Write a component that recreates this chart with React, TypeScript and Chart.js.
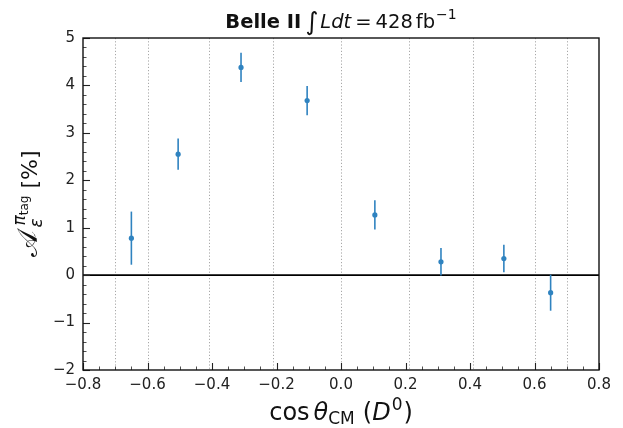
import React, { useEffect, useRef } from "react";
import { Chart, registerables } from "chart.js";

Chart.register(...registerables);

// ---- data ----
const xCenters = [-0.65, -0.505, -0.31, -0.105, 0.105, 0.31, 0.505, 0.65];
const asymValues = [0.78, 2.55, 4.38, 3.68, 1.27, 0.28, 0.35, -0.37];
const asymErrors = [0.56, 0.33, 0.31, 0.31, 0.31, 0.29, 0.29, 0.38];
const binEdges = [-0.7, -0.6, -0.41, -0.21, 0, 0.21, 0.41, 0.6, 0.7];
const xMajorTicks = [-0.8, -0.6, -0.4, -0.2, 0, 0.2, 0.4, 0.6, 0.8];
const yMajorTicks = [-2, -1, 0, 1, 2, 3, 4, 5];

const BLUE = "#2f83c0";
const FAM = "'DejaVu Sans', sans-serif";

function fmt(v: number, d: number) {
  if (Math.abs(v) < 1e-9) return (0).toFixed(d);
  return (v < 0 ? "\u2212" : "") + Math.abs(v).toFixed(d);
}

type Run = { text: string; font: string; dy?: number; gap?: number };

function runsWidth(ctx: CanvasRenderingContext2D, runs: Run[]) {
  let w = 0;
  runs.forEach((r) => {
    ctx.font = r.font;
    w += ctx.measureText(r.text).width + (r.gap || 0);
  });
  return w;
}

function drawRuns(ctx: CanvasRenderingContext2D, runs: Run[], x: number, y: number) {
  let cx = x;
  runs.forEach((r) => {
    ctx.font = r.font;
    ctx.fillText(r.text, cx, y + (r.dy || 0));
    cx += ctx.measureText(r.text).width + (r.gap || 0);
  });
}

const decor = {
  id: "decor",
  beforeDatasetsDraw(chart: any) {
    const { ctx, chartArea: a, scales } = chart;
    const x = scales.x, y = scales.y;
    ctx.save();
    // dotted bin edges
    ctx.strokeStyle = "#a8a8a8";
    ctx.lineWidth = 1;
    ctx.setLineDash([1.2, 2]);
    binEdges.forEach((e) => {
      const px = Math.round(x.getPixelForValue(e)) + 0.5;
      ctx.beginPath();
      ctx.moveTo(px, a.top);
      ctx.lineTo(px, a.bottom);
      ctx.stroke();
    });
    ctx.setLineDash([]);
    // zero line
    const y0 = y.getPixelForValue(0);
    ctx.strokeStyle = "#000";
    ctx.lineWidth = 1.6;
    ctx.beginPath();
    ctx.moveTo(a.left, y0);
    ctx.lineTo(a.right, y0);
    ctx.stroke();
    // error bars
    ctx.strokeStyle = BLUE;
    ctx.lineWidth = 1.6;
    xCenters.forEach((c, i) => {
      const px = x.getPixelForValue(c);
      ctx.beginPath();
      ctx.moveTo(px, y.getPixelForValue(asymValues[i] - asymErrors[i]));
      ctx.lineTo(px, y.getPixelForValue(asymValues[i] + asymErrors[i]));
      ctx.stroke();
    });
    ctx.restore();
  },
  afterDraw(chart: any) {
    const { ctx, chartArea: a, scales } = chart;
    const x = scales.x, y = scales.y;
    ctx.save();
    // ticks (inward)
    ctx.strokeStyle = "#222";
    for (let v = -0.8; v <= 0.8001; v += 0.05) {
      const major = Math.abs(Math.round(v / 0.2) * 0.2 - v) < 1e-6;
      const px = Math.round(x.getPixelForValue(v)) + 0.5;
      ctx.lineWidth = major ? 1.1 : 0.8;
      ctx.beginPath();
      ctx.moveTo(px, a.bottom);
      ctx.lineTo(px, a.bottom - (major ? 7 : 3.5));
      ctx.stroke();
    }
    for (let v = -2; v <= 5.0001; v += 0.2) {
      const major = Math.abs(Math.round(v) - v) < 1e-6;
      const py = Math.round(y.getPixelForValue(v)) + 0.5;
      ctx.lineWidth = major ? 1.1 : 0.8;
      ctx.beginPath();
      ctx.moveTo(a.left, py);
      ctx.lineTo(a.left + (major ? 7 : 3.5), py);
      ctx.stroke();
    }
    // frame
    ctx.strokeStyle = "#111";
    ctx.lineWidth = 1.4;
    ctx.strokeRect(a.left, a.top, a.right - a.left, a.bottom - a.top);

    ctx.fillStyle = "#111";
    ctx.textBaseline = "alphabetic";
    ctx.textAlign = "left";
    // title
    const tRuns: Run[] = [
      { text: "Belle II", font: `bold 19.5px ${FAM}`, gap: 4 },
      { text: "\u222B", font: `25px ${FAM}`, gap: 2, dy: 2 },
      { text: "Ldt", font: `italic 19.5px ${FAM}`, gap: 4 },
      { text: "=", font: `19.5px ${FAM}`, gap: 4 },
      { text: "428", font: `19.5px ${FAM}`, gap: 3 },
      { text: "fb", font: `19.5px ${FAM}`, gap: 1 },
      { text: "\u22121", font: `14px ${FAM}`, dy: -9 },
    ];
    const cxm = (a.left + a.right) / 2;
    drawRuns(ctx, tRuns, cxm - runsWidth(ctx, tRuns) / 2, 28);

    // x title
    const xRuns: Run[] = [
      { text: "cos", font: `24px ${FAM}`, gap: 4 },
      { text: "\u03B8", font: `italic 24px ${FAM}`, gap: 0 },
      { text: "CM", font: `17px ${FAM}`, dy: 4, gap: 8 },
      { text: "(", font: `24px ${FAM}`, gap: 0 },
      { text: "D", font: `italic 24px ${FAM}`, gap: 1 },
      { text: "0", font: `17px ${FAM}`, dy: -10, gap: 1 },
      { text: ")", font: `24px ${FAM}` },
    ];
    drawRuns(ctx, xRuns, cxm - runsWidth(ctx, xRuns) / 2, 420);

    // y title (rotated)
    const cym = (a.top + a.bottom) / 2;
    ctx.translate(37, cym);
    ctx.rotate(-Math.PI / 2);
    const fA = `28px ${FAM}`;
    const fSup = `italic 17px ${FAM}`;
    const fSupSub = `12px ${FAM}`;
    const fSub = `italic 17px ${FAM}`;
    const fMain = `22px ${FAM}`;
    ctx.font = fA;
    const wA = ctx.measureText("\uD835\uDC9C").width;
    ctx.font = fSup;
    const wPi = ctx.measureText("\u03C0").width;
    ctx.font = fSupSub;
    const wTag = ctx.measureText("tag").width;
    ctx.font = fSub;
    const wEps = ctx.measureText("\u03B5").width;
    ctx.font = fMain;
    const wRest = ctx.measureText(" [%]").width;
    const wScr = Math.max(wPi + wTag, wEps);
    const gapA = 6;
    const total = wA + gapA + wScr + wRest;
    let sx = -total / 2;
    ctx.font = fA;
    ctx.fillText("\uD835\uDC9C", sx, 0);
    sx += wA + gapA;
    ctx.font = fSup;
    ctx.fillText("\u03C0", sx, -12);
    ctx.font = fSupSub;
    ctx.fillText("tag", sx + wPi, -9);
    ctx.font = fSub;
    ctx.fillText("\u03B5", sx - 2, 5);
    sx += wScr;
    ctx.font = fMain;
    ctx.fillText(" [%]", sx, 0);
    ctx.restore();
  },
};

export default function App() {
  const ref = useRef<HTMLCanvasElement>(null);
  useEffect(() => {
    if (!ref.current) return;
    const chart = new Chart(ref.current, {
      type: "scatter",
      data: {
        datasets: [
          {
            data: xCenters.map((c, i) => ({ x: c, y: asymValues[i] })),
            backgroundColor: BLUE,
            borderColor: BLUE,
            pointRadius: 2.6,
            pointHoverRadius: 2.6,
            borderWidth: 0,
          },
        ],
      },
      options: {
        responsive: false,
        animation: false,
        layout: { padding: { top: 38, right: 24, left: 0, bottom: 0 } },
        plugins: { legend: { display: false }, tooltip: { enabled: false } },
        scales: {
          x: {
            type: "linear",
            min: -0.8,
            max: 0.8,
            grid: { display: false, drawTicks: false },
            border: { display: false },
            ticks: {
              stepSize: 0.2,
              padding: 6,
              autoSkip: false,
              maxRotation: 0,
              color: "#222",
              font: { family: "DejaVu Sans", size: 15 },
              callback: (v: any) => fmt(Number(v), 1),
            },
            afterFit: (s: any) => {
              s.height = 58;
            },
          },
          y: {
            min: -2,
            max: 5,
            grid: { display: false, drawTicks: false },
            border: { display: false },
            ticks: {
              stepSize: 1,
              padding: 8,
              color: "#222",
              font: { family: "DejaVu Sans", size: 15 },
              callback: (v: any) => fmt(Number(v), 0),
            },
            afterFit: (s: any) => {
              s.width = 83;
            },
          },
        },
      },
      plugins: [decor],
    });
    return () => chart.destroy();
  }, []);
  return (
    <div style={{ position: "fixed", left: 0, top: 0, width: 623, height: 428 }}>
      <canvas ref={ref} width={623} height={428} style={{ display: "block" }} />
    </div>
  );
}
